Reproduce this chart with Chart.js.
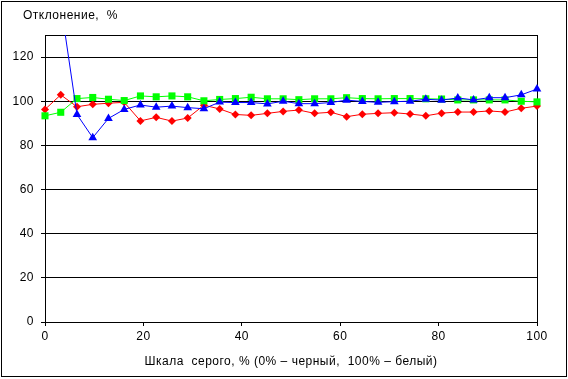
<!DOCTYPE html>
<html>
<head>
<meta charset="utf-8">
<script src="https://cdn.jsdelivr.net/npm/chart.js@4"></script>
<style>
  html, body { margin: 0; padding: 0; background: #fff; }
  canvas { display: block; }
</style>
</head>
<body>
<canvas id="chart" width="568" height="379"></canvas>
<script>
// Grey scale steps, % (0% black, 100% white)
const grayLevels = [0, 3.2, 6.5, 9.7, 12.9, 16.1, 19.4, 22.6, 25.8, 29.0, 32.3, 35.5, 38.7, 41.9, 45.2, 48.4,
    51.6, 54.8, 58.1, 61.3, 64.5, 67.7, 71.0, 74.2, 77.4, 80.6, 83.9, 87.1, 90.3, 93.5, 96.8, 100];

// Deviation, % per channel
const redValues = [96.3, 102.9, 97.5, 98.6, 99.1, 99.5, 91.1, 92.7, 91.0, 92.4, 98.2, 96.5, 94.0, 93.6, 94.5, 95.4,
    96.0, 94.5, 95.0, 93.0, 94.1, 94.5, 94.8, 94.2, 93.4, 94.6, 95.1, 95.1, 95.6, 95.1, 96.8, 97.8];
const greenValues = [93.4, 95.0, 101.2, 101.7, 100.9, 100.3, 102.4, 102.0, 102.4, 102.0, 100.2, 100.8, 101.2, 101.8, 101.1, 101.1,
    100.7, 101.1, 101.1, 101.6, 101.2, 101.1, 101.2, 101.2, 101.1, 101.0, 100.6, 100.6, 100.6, 100.6, 100.0, 99.7];
const blueValues = [190, 144, 94.0, 83.5, 92.2, 96.3, 98.3, 97.3, 97.8, 97.1, 96.6, 99.6, 99.4, 99.4, 98.8, 100.0,
    98.9, 98.9, 99.4, 100.5, 99.9, 99.5, 99.8, 100.0, 100.9, 100.5, 101.5, 100.6, 101.6, 101.6, 102.9, 105.5];

const yTitle = 'Отклонение,  %';
const xTitle = 'Шкала  серого, % (0% – черный,  100% – белый)';

const font = { family: '"Liberation Sans", Arial, sans-serif', size: 12 };

function toPoints(values) {
    return values.map((v, i) => ({ x: grayLevels[i], y: v }));
}

// markers may spill over the plot edges, the lines may not leave through the top
const clipBox = { left: 8, right: 8, top: 0, bottom: 8 };

// --- frame, plot border and the y title ---
const framePlugin = {
    id: 'frame',
    beforeDraw(chart) {
        // the original text is a bit wider than the canvas default
        chart.ctx.letterSpacing = '0.5px';
    },
    beforeDatasetsDraw(chart) {
        const { ctx, chartArea: a } = chart;
        ctx.save();
        ctx.strokeStyle = '#000';
        ctx.lineWidth = 1;
        ctx.strokeRect(Math.round(a.left) + 0.5, Math.round(a.top) + 0.5,
            Math.round(a.right - a.left), Math.round(a.bottom - a.top));
        ctx.restore();
    },
    afterDraw(chart) {
        const ctx = chart.ctx;
        ctx.save();
        ctx.strokeStyle = '#000';
        ctx.lineWidth = 1;
        ctx.strokeRect(1.5, 1.5, 565, 375);
        ctx.fillStyle = '#000';
        ctx.font = '12px ' + font.family;
        ctx.textBaseline = 'alphabetic';
        ctx.fillText(yTitle, 23, 19);
        ctx.restore();
    }
};

new Chart(document.getElementById('chart'), {
    type: 'line',
    data: {
        datasets: [{
            label: 'B',
            data: toPoints(blueValues),
            borderColor: '#0000FF',
            backgroundColor: '#0000FF',
            borderWidth: 1,
            pointStyle: 'triangle',
            pointRadius: 5,
            pointBorderWidth: 0,
            clip: clipBox
        }, {
            label: 'G',
            data: toPoints(greenValues),
            borderColor: '#00FF00',
            backgroundColor: '#00FF00',
            borderWidth: 1,
            pointStyle: 'rect',
            pointRadius: 5,
            pointBorderWidth: 0,
            clip: clipBox
        }, {
            label: 'R',
            data: toPoints(redValues),
            borderColor: '#FF0000',
            backgroundColor: '#FF0000',
            borderWidth: 1,
            pointStyle: 'rectRot',
            pointRadius: 4,
            pointBorderWidth: 0,
            clip: clipBox
        }]
    },
    options: {
        responsive: false,
        animation: false,
        layout: { padding: { left: 0, top: 35, right: 31, bottom: 0 } },
        plugins: {
            legend: { display: false },
            tooltip: { enabled: false }
        },
        scales: {
            x: {
                type: 'linear',
                min: 0,
                max: 100,
                afterFit(scale) { scale.height = 57; },
                border: { color: '#000', width: 1 },
                grid: { drawOnChartArea: false, color: '#000', tickLength: 4 },
                ticks: { stepSize: 20, padding: 3, color: '#000', font: font, maxRotation: 0 },
                title: {
                    display: true,
                    text: xTitle,
                    color: '#000',
                    font: font,
                    padding: { top: 0, bottom: 10 }
                }
            },
            y: {
                min: 0,
                max: 130,
                afterFit(scale) { scale.width = 45; },
                border: { color: '#000', width: 1 },
                grid: { color: '#000', lineWidth: 1, tickLength: 4 },
                ticks: { stepSize: 20, includeBounds: false, padding: 7, color: '#000', font: font }
            }
        }
    },
    plugins: [framePlugin]
});
</script>
</body>
</html>
